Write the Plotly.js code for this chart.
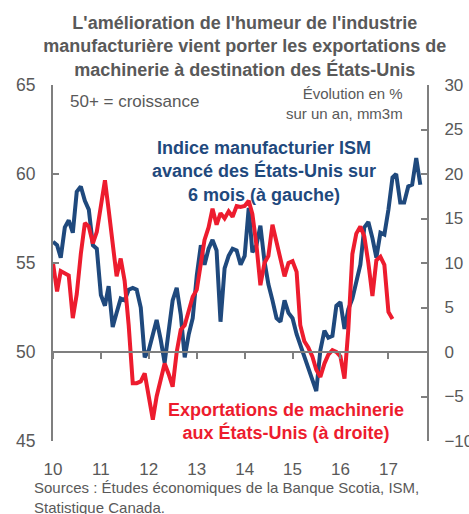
<!DOCTYPE html>
<html><head><meta charset="utf-8">
<script src="https://cdn.plot.ly/plotly-3.0.1.min.js"></script>
<style>html,body{margin:0;padding:0;background:#fff}#chart{width:469px;height:514px}</style>
</head><body><div id="chart"></div>
<script>
// Year ticks and labels
const yearTicks = ['2010-01-01','2011-01-01','2012-01-01','2013-01-01','2014-01-01','2015-01-01','2016-01-01','2017-01-01'];
const yearLabels = ['10','11','12','13','14','15','16','17'];
const leftTicks = [45, 50, 55, 60, 65];
const rightTicks = [-10, -5, 0, 5, 10, 15, 20, 25, 30];

// ISM manufacturing index, 6-month lead (left axis), monthly from Jan 2010
const ismValues = [
  56.2, 56.0, 55.3, 57.0, 57.4, 56.7, 59.0, 59.3, 58.5, 58.0, 56.0, 55.8,
  53.2, 52.6, 53.7, 51.4, 52.2, 53.0, 52.9, 53.5, 53.6, 53.5, 52.5, 49.7,
  50.1, 51.0, 51.8, 50.7, 49.4, 51.2, 52.9, 53.6, 52.1, 49.7, 51.0, 51.9,
  54.3, 56.0, 54.9, 55.8, 56.3, 55.7, 51.7, 54.7, 55.4, 55.8, 55.7, 54.9,
  55.4, 58.1, 55.6, 56.0, 57.1, 55.1, 53.8, 52.9, 51.9, 51.7, 52.9, 52.2,
  51.9, 51.0, 50.4, 49.8, 49.1, 48.4, 47.8, 50.1, 51.2, 50.8, 50.9, 52.6,
  52.8, 51.3, 52.4, 53.0, 53.9, 54.9, 57.0, 57.3, 56.4, 55.3, 56.7, 56.6,
  58.0, 59.8, 60.0, 58.4, 58.4, 59.3, 59.4, 60.9, 59.4
];
// Machinery exports to the US, y/y % change, 3mma (right axis), monthly from Jan 2010
const exportValues = [
  10.0, 6.8, 9.1, 8.8, 8.6, 3.8, 6.5, 11.0, 14.5, 14.1, 12.2, 13.5,
  16.5, 19.3, 16.0, 12.0, 8.5, 10.5, 8.0, 3.0, -3.5, -3.5, -3.3, -2.4,
  -5.0, -7.6, -5.0, -3.0, -1.3, -2.5, -3.9, 0.0, 2.5, 3.0, 4.5, 6.2,
  7.0, 9.6, 12.6, 14.0, 16.1, 14.3, 15.6, 15.0, 15.8, 15.2, 16.4, 16.3,
  16.4, 17.0, 15.5, 12.0, 7.5, 10.0, 10.8, 14.3, 12.2, 10.5, 8.5, 10.0,
  10.2, 9.0, 3.0, 1.2, 0.5, -0.5, -2.0, -2.8, -1.3, -0.3, 0.2, 0.0,
  -0.5, -3.0, 2.5, 11.0, 13.3, 14.1, 13.0, 10.0, 6.3, 10.3, 10.7, 9.8,
  4.5, 3.7
];

function monthDates(n) {
  const out = [];
  for (let i = 0; i < n; i++) {
    const y = 2010 + Math.floor(i / 12);
    const m = (i % 12) + 1;
    out.push(y + '-' + (m < 10 ? '0' + m : m) + '-01');
  }
  return out;
}

const GRAY = '#595959';
const AXIS = '#7f7f7f';
const BLUE = '#1F497D';
const RED = '#ED1C2E';
const FONT = 'Liberation Sans, Arial, sans-serif';
const xRange = ['2010-01-01', '2017-10-22'];

const traces = [
  {x: monthDates(ismValues.length), y: ismValues, type: 'scatter', mode: 'lines',
   line: {color: BLUE, width: 4}, xaxis: 'x', yaxis: 'y', hoverinfo: 'skip'},
  {x: monthDates(exportValues.length), y: exportValues, type: 'scatter', mode: 'lines',
   line: {color: RED, width: 4}, xaxis: 'x2', yaxis: 'y2', hoverinfo: 'skip'}
];

const layout = {
  width: 469, height: 514,
  margin: {l: 53, r: 42, t: 85, b: 73},
  paper_bgcolor: '#fff', plot_bgcolor: '#fff',
  showlegend: false,
  font: {family: FONT, color: GRAY},
  title: {
    text: "L'amélioration de l'humeur de l'industrie<br>manufacturière vient porter les exportations de<br>machinerie à destination des États-Unis",
    font: {family: FONT, size: 18, color: GRAY, weight: 'bold'},
    x: 0.522, xanchor: 'center', y: 0.944, yanchor: 'top', yref: 'container'
  },
  xaxis: {
    type: 'date', range: xRange, tickvals: yearTicks, ticktext: yearLabels,
    ticks: 'outside', ticklen: 13, tickcolor: 'rgba(0,0,0,0)',
    showline: false, showgrid: false, zeroline: false,
    tickfont: {family: FONT, size: 17, color: GRAY}
  },
  xaxis2: {
    type: 'date', range: xRange, tickvals: yearTicks, overlaying: 'x',
    anchor: 'free', position: 0.25, side: 'bottom',
    ticks: 'outside', ticklen: 6, tickwidth: 2, tickcolor: AXIS,
    showline: true, linecolor: AXIS, linewidth: 2,
    showticklabels: false, showgrid: false, zeroline: false
  },
  yaxis: {
    range: [45, 65], tickvals: leftTicks,
    ticks: 'inside', ticklen: 6, tickwidth: 2, tickcolor: AXIS,
    showline: true, linecolor: AXIS, linewidth: 2,
    showgrid: false, zeroline: false, ticklabelstandoff: 12,
    tickfont: {family: FONT, size: 17.5, color: GRAY}
  },
  yaxis2: {
    range: [-10, 30], tickvals: rightTicks, overlaying: 'y', side: 'right', anchor: 'x',
    ticks: 'inside', ticklen: 6, tickwidth: 2, tickcolor: AXIS,
    showline: true, linecolor: AXIS, linewidth: 2,
    showgrid: false, zeroline: false, ticklabelstandoff: 12,
    tickfont: {family: FONT, size: 17, color: GRAY}
  },
  annotations: [
    {text: '50+ = croissance', xref: 'paper', yref: 'paper', x: 0.040, y: 0.955,
     xanchor: 'left', yanchor: 'middle', showarrow: false,
     font: {family: FONT, size: 17, color: GRAY}},
    {text: 'Évolution en %<br>sur un an, mm3m', xref: 'paper', yref: 'paper', x: 0.941, y: 0.947,
     xanchor: 'right', yanchor: 'middle', align: 'right', showarrow: false,
     font: {family: FONT, size: 15, color: GRAY}},
    {text: '<b>Indice manufacturier ISM<br>avancé des États-Unis sur<br>6 mois (à gauche)</b>',
     xref: 'paper', yref: 'paper', x: 0.564, y: 0.756,
     xanchor: 'center', yanchor: 'middle', align: 'center', showarrow: false,
     font: {family: FONT, size: 18, color: BLUE}},
    {text: '<b>Exportations de machinerie<br>aux États-Unis (à droite)</b>',
     xref: 'paper', yref: 'paper', x: 0.622, y: 0.055,
     xanchor: 'center', yanchor: 'middle', align: 'center', showarrow: false,
     font: {family: FONT, size: 18, color: RED}},
    {text: 'Sources : Études économiques de la Banque Scotia, ISM,<br>Statistique Canada.',
     xref: 'paper', yref: 'paper', x: -0.057, y: -0.159,
     xanchor: 'left', yanchor: 'middle', align: 'left', showarrow: false,
     font: {family: FONT, size: 15, color: GRAY}}
  ]
};

Plotly.newPlot('chart', traces, layout, {staticPlot: true, displayModeBar: false});
</script>
</body></html>
